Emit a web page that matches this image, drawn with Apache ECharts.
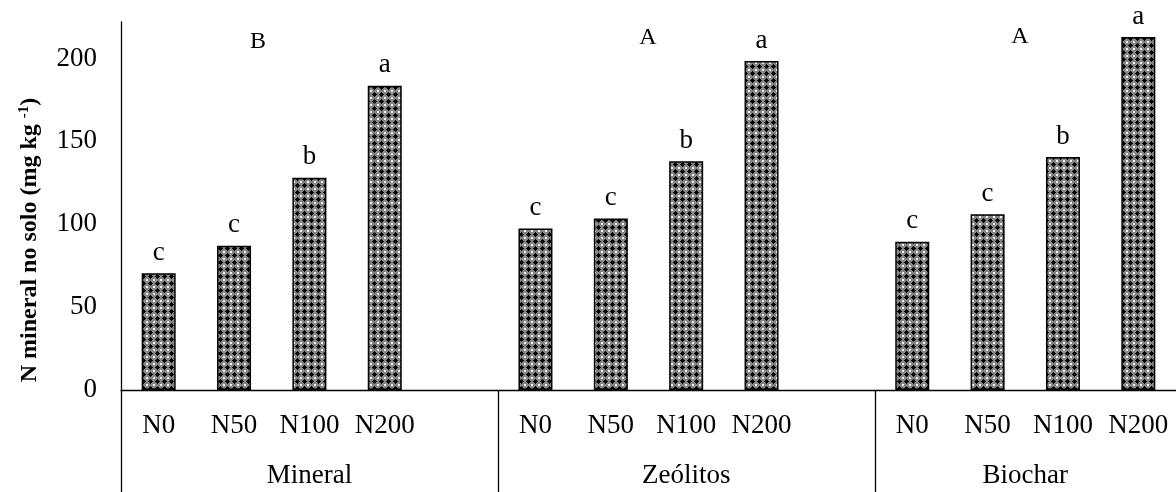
<!DOCTYPE html>
<html>
<head>
<meta charset="utf-8">
<script src="https://cdn.jsdelivr.net/npm/echarts@6/dist/echarts.min.js"></script>
<style>
html,body{margin:0;padding:0;background:#fff;}
#c{width:1176px;height:492px;}
</style>
</head>
<body>
<div id="c"></div>
<script>
// ---- data ----
const groups = ['Mineral', 'Zeólitos', 'Biochar'];
const doses = ['N0', 'N50', 'N100', 'N200'];
const mineralValues = [70.5, 87, 128, 183.5];
const zeolitosValues = [97.5, 103.5, 138, 198.5];
const biocharValues = [89.5, 106, 140.5, 213];
const mineralLetters = ['c', 'c', 'b', 'a'];
const zeolitosLetters = ['c', 'c', 'b', 'a'];
const biocharLetters = ['c', 'c', 'b', 'a'];
const groupLetters = ['B', 'A', 'A'];
const yTicks = [0, 50, 100, 150, 200];

// ---- build category axis (spacer slot between groups) ----
const groupValues = [mineralValues, zeolitosValues, biocharValues];
const groupLetterArrays = [mineralLetters, zeolitosLetters, biocharLetters];
const categories = [];
const seriesData = [];
const groupSlots = [];
groups.forEach((g, gi) => {
  const start = categories.length;
  doses.forEach((d, di) => {
    categories.push(d);
    seriesData.push({ value: groupValues[gi][di], letter: groupLetterArrays[gi][di] });
  });
  if (gi < groups.length - 1) {
    categories.push('');
    seriesData.push({ value: '-', letter: '' });
  }
  groupSlots.push([start, categories.length]);
});

// ---- pattern fill ----
function makePattern() {
  const c = document.createElement('canvas');
  c.width = 7; c.height = 7;
  const g = c.getContext('2d');
  g.fillStyle = '#858585';
  g.fillRect(0, 0, 7, 7);
  g.fillStyle = '#000';
  g.fillRect(3, 1, 1, 5);
  g.fillRect(1, 3, 5, 1);
  g.fillRect(2, 2, 3, 3);
  g.fillStyle = '#f2f2f2';
  g.fillRect(0, 0, 1, 1);
  g.fillRect(6, 6, 1, 1);
  g.fillRect(6, 0, 1, 1);
  g.fillRect(0, 6, 1, 1);
  return c;
}

const FONT = '"Liberation Serif", "Times New Roman", serif';
const FS = 27;
const GRID = { left: 121, right: 0, top: 22, bottom: 102 };
const chart = echarts.init(document.getElementById('c'), null, { renderer: 'canvas' });

const option = {
  backgroundColor: '#fff',
  animation: false,
  grid: GRID,
  xAxis: {
    type: 'category',
    data: categories,
    boundaryGap: true,
    axisLine: { show: true, lineStyle: { color: '#000', width: 1.3 } },
    axisTick: { show: false },
    axisLabel: { color: '#000', fontFamily: FONT, fontSize: FS, margin: 22, interval: 0 },
    splitLine: { show: false }
  },
  yAxis: {
    type: 'value',
    min: 0,
    max: 222,
    interval: 50,
    axisLine: { show: true, lineStyle: { color: '#000', width: 1.3 } },
    axisTick: { show: false },
    splitLine: { show: false },
    axisLabel: {
      color: '#000', fontFamily: FONT, fontSize: FS, margin: 24,
      showMaxLabel: false,
      formatter: v => (yTicks.indexOf(v) >= 0 ? String(v) : '')
    }
  },
  series: [{
    type: 'bar',
    data: seriesData,
    barWidth: 34,
    itemStyle: {
      color: { image: makePattern(), repeat: 'repeat' },
      borderColor: '#000',
      borderWidth: 1.5
    },
    label: {
      show: true,
      position: 'top',
      distance: 7,
      color: '#000',
      fontFamily: FONT,
      fontSize: FS,
      formatter: p => p.data.letter || ''
    }
  }]
};
chart.setOption(option);

// ---- decorations: category-axis group boundaries, group names, group letters ----
function slotEdge(i) {
  const a = chart.convertToPixel({ xAxisIndex: 0 }, 0);
  const b = chart.convertToPixel({ xAxisIndex: 0 }, 1);
  const w = b - a;
  return a - w / 2 + i * w;
}
const yBase = chart.convertToPixel({ yAxisIndex: 0 }, 0);
const H = 492;
const graphics = [];
[0, groupSlots[1][0], groupSlots[2][0]].forEach(i => {
  const x = Math.round(slotEdge(i)) + 0.5;
  graphics.push({ type: 'line', shape: { x1: x, y1: yBase, x2: x, y2: H }, style: { stroke: '#000', lineWidth: 1.3 }, z: 10 });
});
groups.forEach((g, gi) => {
  const x0 = slotEdge(groupSlots[gi][0]);
  const x1 = slotEdge(groupSlots[gi][1]);
  graphics.push({
    type: 'text', x: (x0 + x1) / 2, y: 476,
    style: { text: g, fill: '#000', font: FS + 'px ' + FONT, align: 'center', verticalAlign: 'middle' }
  });
});
const groupLetterPos = [[258, 42], [648, 38], [1020, 37]];
groupLetters.forEach((l, gi) => {
  graphics.push({
    type: 'text', x: groupLetterPos[gi][0], y: groupLetterPos[gi][1],
    style: { text: l, fill: '#000', font: '24px ' + FONT, align: 'center', verticalAlign: 'middle' }
  });
});
graphics.push({
  type: 'text', x: 30, y: 240, rotation: Math.PI / 2,
  style: {
    text: '{b|N mineral no solo (mg kg }{s|-1}{b|)}',
    align: 'center', verticalAlign: 'middle',
    rich: {
      b: { fontFamily: FONT, fontWeight: 'bold', fontSize: 24, fill: '#000', lineHeight: 30 },
      s: { fontFamily: FONT, fontWeight: 'bold', fontSize: 15, fill: '#000', lineHeight: 30, padding: [0, 0, 12, 0] }
    }
  }
});
chart.setOption({ graphic: graphics });
</script>
</body>
</html>
